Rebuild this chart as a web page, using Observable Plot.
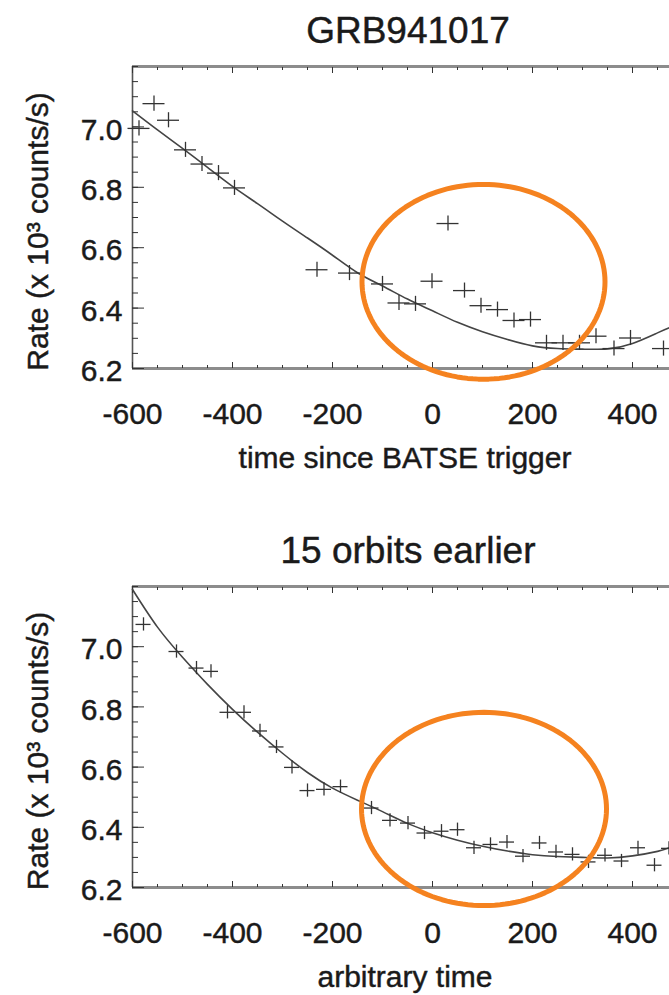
<!DOCTYPE html>
<html>
<head>
<meta charset="utf-8">
<script src="https://cdn.jsdelivr.net/npm/d3@7"></script>
<script src="https://cdn.jsdelivr.net/npm/@observablehq/plot@0.6"></script>
<style>
html, body { margin: 0; padding: 0; background: #fff; overflow: hidden; width: 669px; height: 995px; }
#chart svg { display: block; }
#chart svg text { stroke: #1a1a1a; stroke-width: 0.45px; }
</style>
</head>
<body>
<div id="chart"></div>
<script>
// ---- text ----
const topTitle = "GRB941017";
const bottomTitle = "15 orbits earlier";
const topXLabel = "time since BATSE trigger";
const bottomXLabel = "arbitrary time";
const yLabel = "Rate (x 10\u00B3 counts/s)";

// ---- tick labels ----
const xTickValues = [-600, -400, -200, 0, 200, 400];
const yTickValues = [6.2, 6.4, 6.6, 6.8, 7.0];

// ---- top panel: GRB941017 ----
const topTime = [-587, -557, -528, -494, -461, -428, -396, -231, -166, -100, -67, -34, -1, 31, 64, 97, 130, 163, 196, 228, 261, 294, 327, 363, 396, 462];
const topRate = [6.995, 7.077, 7.022, 6.924, 6.877, 6.847, 6.798, 6.527, 6.516, 6.48, 6.417, 6.414, 6.489, 6.68, 6.458, 6.408, 6.395, 6.359, 6.362, 6.285, 6.285, 6.285, 6.307, 6.266, 6.301, 6.266];
const topFitTime = [-600, -550, -500, -450, -400, -350, -300, -250, -200, -150, -100, -50, 0, 50, 100, 150, 200, 250, 300, 350, 400, 450, 474];
const topFitRate = [7.053, 6.99, 6.929, 6.866, 6.803, 6.746, 6.688, 6.632, 6.575, 6.517, 6.473, 6.43, 6.391, 6.353, 6.322, 6.296, 6.275, 6.266, 6.264, 6.265, 6.283, 6.318, 6.335];

// ---- bottom panel: 15 orbits earlier ----
const bottomTime = [-578, -512, -472, -443, -410, -377, -345, -312, -281, -250, -217, -184, -122, -85, -49, -16, 18, 50, 83, 116, 149, 181, 214, 247, 280, 312, 345, 378, 411, 444, 473];
const bottomRate = [7.074, 6.984, 6.929, 6.918, 6.782, 6.782, 6.72, 6.667, 6.599, 6.522, 6.526, 6.535, 6.464, 6.423, 6.414, 6.381, 6.387, 6.392, 6.332, 6.343, 6.351, 6.304, 6.348, 6.318, 6.31, 6.285, 6.307, 6.288, 6.332, 6.274, 6.33];
const bottomFitTime = [-600, -550, -500, -450, -400, -350, -300, -250, -200, -150, -100, -50, 0, 50, 100, 150, 200, 250, 300, 350, 400, 450, 474];
const bottomFitRate = [7.19, 7.065, 6.965, 6.875, 6.792, 6.716, 6.646, 6.582, 6.53, 6.49, 6.452, 6.413, 6.382, 6.357, 6.337, 6.321, 6.309, 6.303, 6.3, 6.298, 6.305, 6.32, 6.332];

// ---- highlight ellipses (centre and radii in data units) ----
const ellipseCenterTime = [102, 103];
const ellipseCenterRate = [6.487, 6.461];
const ellipseRadiusTime = [243, 245];
const ellipseRadiusRate = [0.3225, 0.321];

const xMinor = d3.range(-600, 475, 50);
const yMinor = d3.range(6.2, 7.2001, 0.05).map(v => +v.toFixed(2));

const FONT = "'Liberation Sans', Arial, Helvetica, sans-serif";
const dark = "#333";

function panel({title, xLabel, time, rate, fitTime, fitRate, xErr, yErr, e, height, marginBottom}) {
  const pts = time.map((t, i) => ({t, r: rate[i]}));
  const fit = fitTime.map((t, i) => ({t, r: fitRate[i]}));
  const ell = d3.range(0, 145).map(i => {
    const a = 2 * Math.PI * i / 144;
    return {t: ellipseCenterTime[e] + ellipseRadiusTime[e] * Math.cos(a), r: ellipseCenterRate[e] + ellipseRadiusRate[e] * Math.sin(a)};
  });
  return Plot.plot({
    width: 669,
    height,
    marginLeft: 132,
    marginRight: 0,
    marginTop: 66,
    marginBottom,
    style: {fontFamily: FONT, fontSize: "30px", color: "#1a1a1a", background: "#fff", overflow: "visible"},
    x: {domain: [-600, 474]},
    y: {domain: [6.2, 7.2]},
    marks: [
      // frame
      Plot.ruleY([6.2, 7.2], {stroke: "#8c8c8c", strokeWidth: 3}),
      Plot.ruleX([-600], {stroke: "#555", strokeWidth: 1.6}),
      // inward ticks
      Plot.axisX(xMinor, {anchor: "bottom", tickSize: -3, fill: "none", stroke: dark, label: null}),
      Plot.axisX(xTickValues, {anchor: "bottom", tickSize: -6, fill: "none", stroke: dark, label: null}),
      Plot.axisX(xMinor, {anchor: "top", tickSize: -3, fill: "none", stroke: dark, label: null}),
      Plot.axisX(xTickValues, {anchor: "top", tickSize: -6, fill: "none", stroke: dark, label: null}),
      Plot.axisY(yMinor, {anchor: "left", tickSize: -6, fill: "none", stroke: dark, label: null}),
      Plot.axisY(yTickValues, {anchor: "left", tickSize: -12, fill: "none", stroke: dark, label: null}),
      // tick labels
      Plot.axisX(xTickValues, {anchor: "bottom", tickSize: 0, tickPadding: 34, fontSize: 30, tickFormat: d => String(d), label: null}),
      Plot.axisY(yTickValues, {anchor: "left", tickSize: 0, tickPadding: 10, fontSize: 30, dy: 3, tickFormat: d3.format(".1f"), label: null}),
      // fit curve
      Plot.line(fit, {x: "t", y: "r", curve: "natural", stroke: "#444", strokeWidth: 1.6}),
      // data crosses
      Plot.ruleY(pts, {y: "r", x1: d => d.t - xErr, x2: d => d.t + xErr, stroke: dark, strokeWidth: 1.3}),
      Plot.ruleX(pts, {x: "t", y1: d => d.r - yErr, y2: d => d.r + yErr, stroke: dark, strokeWidth: 1.3}),
      // highlight ellipse
      Plot.line(ell, {x: "t", y: "r", stroke: "#f5821f", strokeWidth: 5}),
      // titles and axis labels
      Plot.text([title], {text: d => d, frameAnchor: "top", textAnchor: "middle", dx: 7, dy: -24, lineAnchor: "bottom", fontSize: 37, fill: "#1a1a1a"}),
      Plot.text([xLabel], {text: d => d, frameAnchor: "bottom", textAnchor: "middle", dx: 4, dy: 99, lineAnchor: "bottom", fontSize: 30, fill: "#1a1a1a"}),
      Plot.text([yLabel], {text: d => d, frameAnchor: "left", textAnchor: "middle", dx: -85, dy: 14, rotate: -90, lineAnchor: "bottom", fontSize: 30, fill: "#1a1a1a"})
    ]
  });
}

const chart = document.getElementById("chart");
chart.append(panel({
  title: topTitle, xLabel: topXLabel, time: topTime, rate: topRate,
  fitTime: topFitTime, fitRate: topFitRate, xErr: 22, yErr: 0.025, e: 0,
  height: 520, marginBottom: 152
}));
chart.append(panel({
  title: bottomTitle, xLabel: bottomXLabel, time: bottomTime, rate: bottomRate,
  fitTime: bottomFitTime, fitRate: bottomFitRate, xErr: 15, yErr: 0.022, e: 1,
  height: 475, marginBottom: 108
}));
</script>
</body>
</html>
